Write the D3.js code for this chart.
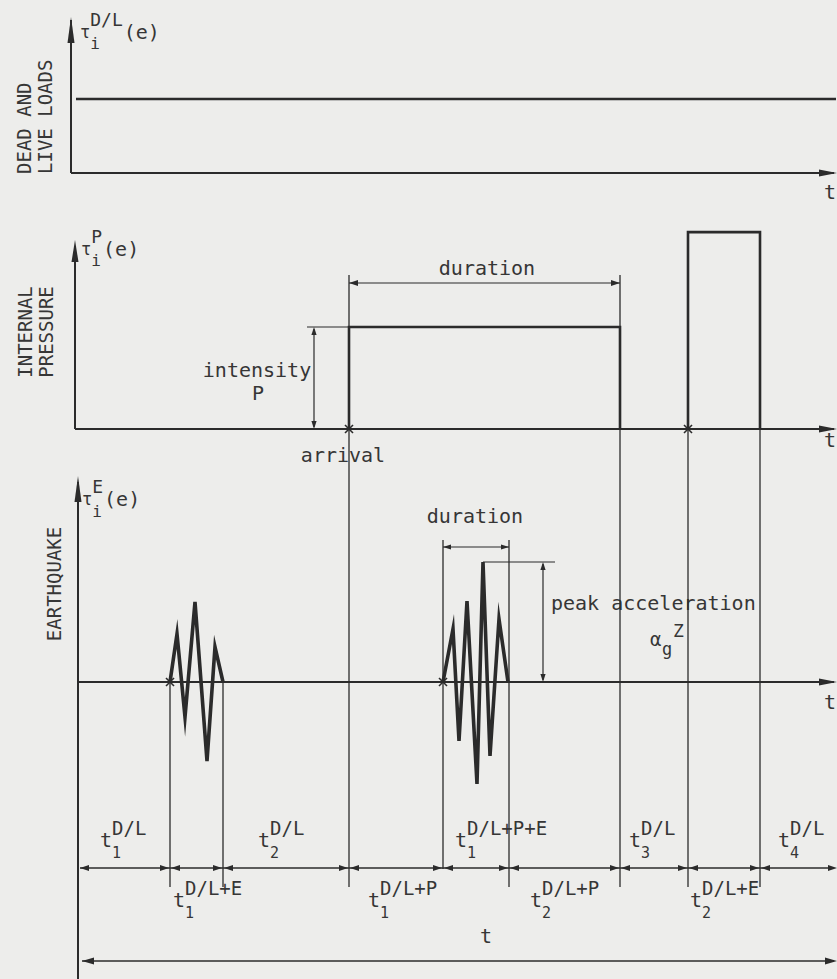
<!DOCTYPE html>
<html><head><meta charset="utf-8">
<script src="https://cdn.jsdelivr.net/npm/d3@7"></script>
<style>html,body{margin:0;padding:0;background:#ededeb;} svg{display:block}</style>
</head><body><div id="chart"></div>
<script>
// ---------- data ----------
const timeDomain = [0, 760];
const deadLiveLevel = [[0, 1], [760, 1]];
const pressurePulse1 = [[273, 0], [273, 1], [544, 1], [544, 0]];
const pressurePulse2 = [[612, 0], [612, 1.93], [684, 1.93], [684, 0]];
const quake1 = [[94,0],[101,0.48],[109,-0.35],[119,0.80],[131,-0.79],[139,0.35],[147,0]];
const quake2 = [[367,0],[377,0.53],[383,-0.59],[391,0.81],[401,-1.02],[407,1.20],[414,-0.74],[423,0.63],[432,0]];
const boundaries = [94, 147, 273, 367, 433, 544, 612, 684];
const labelsAbove = [
  {t: 24, sub: "1", sup: "D/L"},
  {t: 182, sub: "2", sup: "D/L"},
  {t: 379, sub: "1", sup: "D/L+P+E"},
  {t: 553, sub: "3", sup: "D/L"},
  {t: 702, sub: "4", sup: "D/L"}
];
const labelsBelow = [
  {t: 97, sub: "1", sup: "D/L+E"},
  {t: 292, sub: "1", sup: "D/L+P"},
  {t: 454, sub: "2", sup: "D/L+P"},
  {t: 614, sub: "2", sup: "D/L+E"}
];
const panelTitles = [["DEAD AND", "LIVE LOADS"], ["INTERNAL", "PRESSURE"], ["EARTHQUAKE"]];

// ---------- layout ----------
const W = 837, H = 979;
const LINE = "#2b2b2b", TXT = "#363636";
const FONT = "'DejaVu Sans Mono', 'Liberation Mono', monospace";
const svg = d3.select("#chart").append("svg").attr("width", W).attr("height", H);
svg.append("rect").attr("width", W).attr("height", H).attr("fill", "#ededeb");

const x = d3.scaleLinear().domain(timeDomain).range([76, 836]);
const y1 = d3.scaleLinear().domain([0, 1]).range([173, 99]);
const y2 = d3.scaleLinear().domain([0, 1]).range([429, 327]);
const y3 = d3.scaleLinear().domain([-1, 1]).range([782, 582]);

function line(x1, yA, x2, yB, w, col) {
  svg.append("line").attr("x1", x1).attr("y1", yA).attr("x2", x2).attr("y2", yB)
    .attr("stroke", col || LINE).attr("stroke-width", w || 1.4);
}
function arrow(px, py, dir, len, hw) {
  let pts;
  if (dir === 'r') pts = [[px, py], [px - len, py - hw], [px - len, py + hw]];
  if (dir === 'l') pts = [[px, py], [px + len, py - hw], [px + len, py + hw]];
  if (dir === 'u') pts = [[px, py], [px - hw, py + len], [px + hw, py + len]];
  if (dir === 'd') pts = [[px, py], [px - hw, py - len], [px + hw, py - len]];
  svg.append("path").attr("d", "M" + pts.map(p => p.join(",")).join("L") + "Z").attr("fill", LINE);
}
function text(tx, ty, s, size, anchor) {
  return svg.append("text").attr("x", tx).attr("y", ty).text(s)
    .attr("font-family", FONT).attr("font-size", size).attr("fill", TXT)
    .attr("text-anchor", anchor || "start");
}
function subsup(px, py, o) {
  const bs = o.baseSize || 20, ss = o.subSize || 15, ps = o.supSize || 19;
  text(px, py, o.base, bs);
  const bw = o.base.length * bs * 0.602 + (o.gap || 0);
  if (o.sub) text(px + bw, py + (o.subDy || 11), o.sub, ss);
  let w2 = 0;
  if (o.sup) { text(px + bw, py - (o.supDy || 12), o.sup, ps); w2 = o.sup.length * ps * 0.602; }
  if (o.tail) text(px + bw + w2 + 1, py + (o.tailDy || 0), o.tail, o.tailSize || 19);
}
function cross(cx, cy) {
  line(cx - 4, cy - 4, cx + 4, cy + 4, 1.6);
  line(cx - 4, cy + 4, cx + 4, cy - 4, 1.6);
}
const lineGen = (ys) => d3.line().x(d => x(d[0])).y(d => ys(d[1]));

// ---------- panel 1 : dead and live loads ----------
line(71, 20, 71, 173, 2);
arrow(71, 17, 'u', 26, 3.5);
line(71, 173, 834, 173, 2);
arrow(837, 173, 'r', 18, 3.5);
svg.append("path").datum(deadLiveLevel).attr("d", lineGen(y1))
  .attr("fill", "none").attr("stroke", LINE).attr("stroke-width", 2.6);
text(824, 199, "t", 20);
subsup(80, 38, {base: "τ", baseSize: 17, sub: "i", subSize: 16, subDy: 11, sup: "D/L", supSize: 18, supDy: 12, tail: "(e)", tailSize: 20, tailDy: 1});

// ---------- panel 2 : internal pressure ----------
line(75, 246, 75, 429, 2);
arrow(75, 240, 'u', 22, 3.5);
line(75, 429, 834, 429, 2);
arrow(837, 429, 'r', 18, 3.5);
[pressurePulse1, pressurePulse2].forEach(p => {
  svg.append("path").datum(p).attr("d", lineGen(y2))
    .attr("fill", "none").attr("stroke", LINE).attr("stroke-width", 2.6);
});
text(824, 447, "t", 20);
subsup(81, 255, {base: "τ", baseSize: 17, sub: "i", subSize: 16, subDy: 11, sup: "P", supSize: 18, supDy: 12, tail: "(e)", tailSize: 20, tailDy: 1});
// intensity dimension
line(307, y2(1), x(273), y2(1), 1.2);
line(314, y2(1) + 2, 314, y2(0) - 2, 1.2);
arrow(314, y2(1), 'u', 8, 2.6);
arrow(314, y2(0), 'd', 8, 2.6);
text(257, 377, "intensity", 20, "middle");
text(258, 400, "P", 20, "middle");
text(343, 462, "arrival", 20, "middle");
cross(x(273), y2(0));
cross(x(612), y2(0));
// duration dimension
const durY = 283;
line(x(273), durY, x(544), durY, 1.2);
arrow(x(273), durY, 'l', 9, 3);
arrow(x(544), durY, 'r', 9, 3);
text(487, 275, "duration", 20, "middle");

// ---------- panel 3 : earthquake ----------
line(78, 482, 78, 979, 2);
arrow(78, 476, 'u', 26, 3.5);
line(78, y3(0), 834, y3(0), 2);
arrow(837, y3(0), 'r', 18, 3.5);
text(824, 709, "t", 20);
subsup(82, 505, {base: "τ", baseSize: 17, sub: "i", subSize: 16, subDy: 12, sup: "E", supSize: 18, supDy: 12, tail: "(e)", tailSize: 20, tailDy: 1});
[quake1, quake2].forEach(q => {
  svg.append("path").datum(q).attr("d", lineGen(y3))
    .attr("fill", "none").attr("stroke", LINE).attr("stroke-width", 3.6)
    .attr("stroke-linejoin", "miter").attr("stroke-miterlimit", 12);
});
cross(x(94), y3(0));
cross(x(367), y3(0));
// earthquake duration
const eDurY = 547;
line(x(367), eDurY, x(433), eDurY, 1.2);
arrow(x(367), eDurY, 'l', 8, 2.6);
arrow(x(433), eDurY, 'r', 8, 2.6);
text(475, 523, "duration", 20, "middle");
// peak acceleration dimension
const peak = d3.max(quake2, d => d[1]);
line(x(407), y3(peak), 555, y3(peak), 1.2);
line(543, y3(peak) + 2, 543, y3(0) - 2, 1.2);
arrow(543, y3(peak), 'u', 8, 2.6);
arrow(543, y3(0), 'd', 8, 2.6);
text(551, 610, "peak acceleration", 20);
text(650, 646, "α", 19);
text(662, 655, "g", 17);
text(673, 637, "Z", 18);

// ---------- vertical guide lines ----------
const tickBottom = 887;
const guideTop = {94: y3(0), 147: y3(0), 273: durY - 8, 367: 540, 433: 540, 544: durY - 8, 612: y2(1.93), 684: y2(1.93)};
boundaries.forEach(b => {
  const bottom = (b === 367) ? 869 : tickBottom;
  line(x(b), guideTop[b], x(b), bottom, 1.3);
});

// ---------- timeline ----------
const tlY = 868;
line(80, tlY, 834, tlY, 1.4);
arrow(80, tlY, 'l', 9, 3);
arrow(837, tlY, 'r', 9, 3);
boundaries.forEach(b => {
  arrow(x(b) - 1, tlY, 'r', 9, 3);
  arrow(x(b) + 1, tlY, 'l', 9, 3);
});
labelsAbove.forEach(l => subsup(x(l.t), 847, {base: "t", sub: l.sub, sup: l.sup, subDy: 11, supDy: 12}));
labelsBelow.forEach(l => subsup(x(l.t), 907, {base: "t", sub: l.sub, sup: l.sup, subDy: 11, supDy: 12}));
text(486, 943, "t", 20, "middle");
// overall span
line(82, 961, 834, 961, 1.4);
arrow(82, 961, 'l', 12, 3.5);
arrow(837, 961, 'r', 12, 3.5);

// ---------- rotated panel titles ----------
function vtitle(lines, cx, cy, anchor) {
  const g = svg.append("g").attr("transform", `translate(${cx},${cy}) rotate(-90)`);
  lines.forEach((s, i) => {
    g.append("text").attr("x", 0).attr("y", i * 21).text(s)
      .attr("font-family", FONT).attr("font-size", 19).attr("fill", TXT)
      .attr("text-anchor", anchor);
  });
}
vtitle(panelTitles[0], 31, 174, "start");
vtitle(panelTitles[1], 32, 332, "middle");
vtitle(panelTitles[2], 61, 584, "middle");
</script></body></html>
